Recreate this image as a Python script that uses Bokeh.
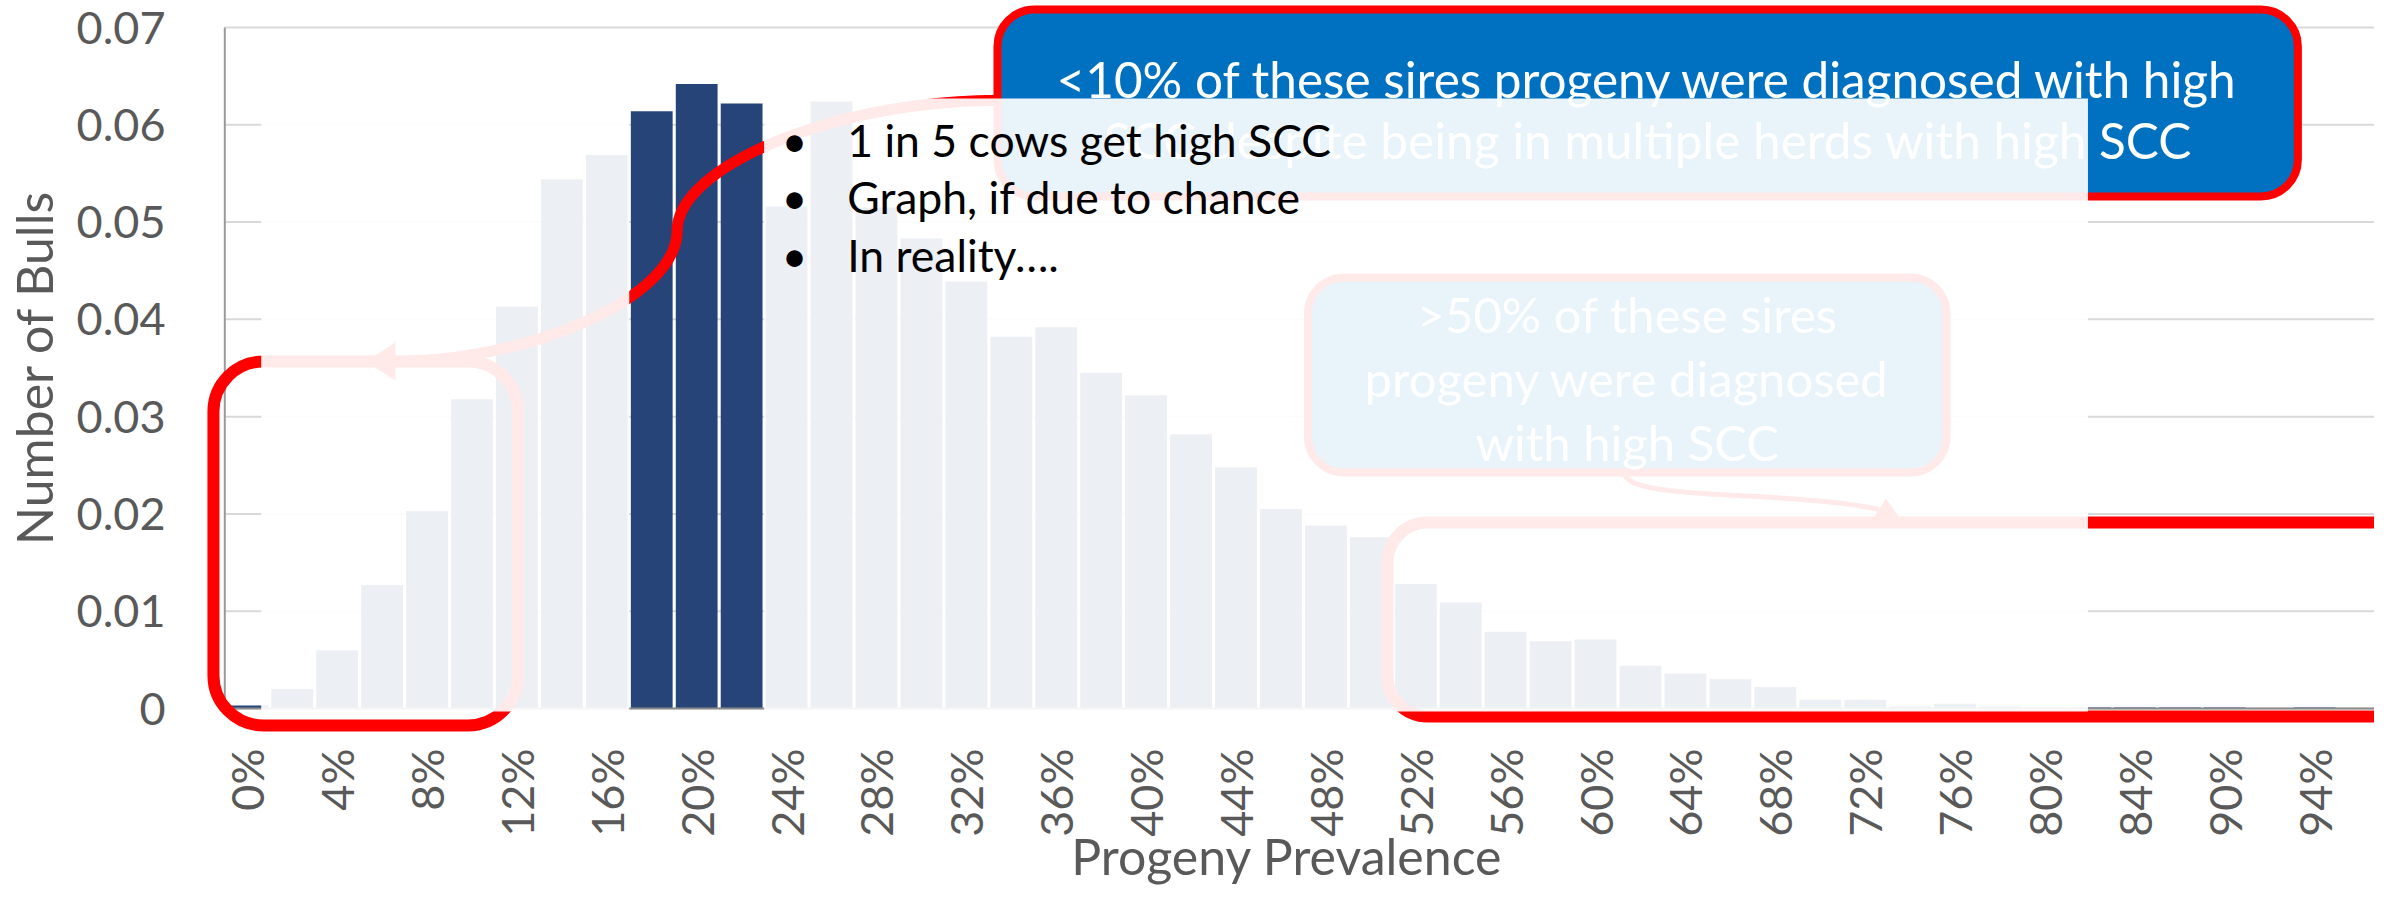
import math
from bokeh.plotting import figure
from bokeh.models import Range1d, FixedTicker, NumeralTickFormatter, BoxAnnotation, Label
from bokeh.embed import file_html
from bokeh.resources import INLINE

# ---------------- data ----------------
categories = ["0%", "2%", "4%", "6%", "8%", "10%", "12%", "14%", "16%", "18%",
              "20%", "22%", "24%", "26%", "28%", "30%", "32%", "34%", "36%", "38%",
              "40%", "42%", "44%", "46%", "48%", "50%", "52%", "54%", "56%", "58%",
              "60%", "62%", "64%", "66%", "68%", "70%", "72%", "74%", "76%", "78%",
              "80%", "82%", "84%", "86%", "90%", "92%", "94%", "96%"]
bull_share = [0.0003, 0.0020, 0.0060, 0.0127, 0.0203, 0.0318, 0.0413, 0.0544, 0.0569, 0.0614,
              0.0642, 0.0622, 0.0516, 0.0624, 0.0515, 0.0483, 0.0439, 0.0382, 0.0392, 0.0345,
              0.0322, 0.0282, 0.0248, 0.0205, 0.0188, 0.0176, 0.0128, 0.0109, 0.0079, 0.0069,
              0.0071, 0.0044, 0.0036, 0.0030, 0.0022, 0.0009, 0.0009, 0.0002, 0.0005, 0.0002,
              0.0001, 0.0001, 0.0001, 0.0001, 0.0001, 0.0, 0.0001, 0.0]
y_ticks = [0, 0.01, 0.02, 0.03, 0.04, 0.05, 0.06, 0.07]
x_tick_labels = ["0%", "4%", "8%", "12%", "16%", "20%", "24%", "28%", "32%", "36%", "40%",
                 "44%", "48%", "52%", "56%", "60%", "64%", "68%", "72%", "76%", "80%",
                 "84%", "90%", "94%"]
x_title = "Progeny Prevalence"
y_title = "Number of Bulls"
box_lines = ["<10% of these sires progeny were diagnosed with high",
             "SCC despite being in multiple herds with high SCC"]
callout_lines = [">50% of these sires", "progeny were diagnosed", "with high SCC"]
bullet_lines = ["1 in 5 cows get high SCC", "Graph, if due to chance", "In reality\u2026."]

# ---------------- style ----------------
FONT = "Lato"
GREY = "#595959"
NAVY = "#264478"
RED = "#FF0000"
BLUE = "#0070C0"
FADE = 0.912

# picture-pixel calibration of the plot (used for annotation placement)
X0, BW = 244.0, 45.17          # centre of first column, column pitch
Y0, PY = 709.0, 681.0 / 0.07   # baseline, pixels per unit
TOP = 1.0                      # picture row of the canvas top


def dx(px):
    return (px - X0) / BW


def dy(py):
    return (Y0 - py) / PY


def cubic(p0, p1, p2, p3, n=50):
    pts = []
    for k in range(n + 1):
        t = k / n
        a, b, c, d = (1 - t) ** 3, 3 * (1 - t) ** 2 * t, 3 * (1 - t) * t ** 2, t ** 3
        pts.append((a * p0[0] + b * p1[0] + c * p2[0] + d * p3[0],
                    a * p0[1] + b * p1[1] + c * p2[1] + d * p3[1]))
    return pts


def s_connector(start, end, xm):
    """Curved connector with horizontal ends and a vertical middle."""
    (x0, y0), (x1, y1) = start, end
    ym = (y0 + y1) / 2
    pts = cubic((x0, y0), ((x0 + xm) / 2, y0), (xm, (y0 + ym) / 2), (xm, ym))
    pts += cubic((xm, ym), (xm, (ym + y1) / 2), ((xm + x1) / 2, y1), (x1, y1))[1:]
    return [dx(x) for x, _ in pts], [dy(y) for _, y in pts]


idx = list(range(len(categories)))

p = figure(width=2374, height=891, output_backend="svg", toolbar_location=None,
           x_range=Range1d(dx(196), dx(2382)), y_range=Range1d(dy(735), dy(TOP)),
           min_border_left=188, min_border_right=0, min_border_top=0, min_border_bottom=157)
p.outline_line_color = None
p.background_fill_color = "white"
p.border_fill_color = "white"
p.grid.visible = False

# gridlines
p.segment(x0=[-0.5] * len(y_ticks), x1=[len(categories) + 2] * len(y_ticks),
          y0=y_ticks, y1=y_ticks, line_color="#d9d9d9", line_width=2)

# bars
p.vbar(x=idx, top=bull_share, width=0.93, fill_color=NAVY, line_color=None)

# axis lines
p.segment(x0=[-0.5], x1=[len(categories) + 2], y0=[0], y1=[0], line_color="#8c8c8c", line_width=2)
p.segment(x0=[-0.5], x1=[-0.5], y0=[0], y1=[y_ticks[-1]], line_color="#9a9a9a", line_width=2)

# connectors
cx, cy = s_connector((997, 101), (388, 362), 676)
p.line(cx, cy, line_color=RED, line_width=11)
p.patch([dx(393), dx(363), dx(393)], [dy(343), dy(362), dy(381)], fill_color=RED, line_color=None)

tail = cubic((1628, 474), (1634, 502), (1790, 490), (1884, 510))
p.line([dx(x) for x, _ in tail], [dy(y) for _, y in tail], line_color=RED, line_width=5)
p.patch([dx(1891), dx(1879), dx(1904)], [dy(499), dy(518), dy(518)], fill_color=RED, line_color=None)

# red highlight boxes
p.add_layout(BoxAnnotation(left=dx(210), right=dx(516), top=dy(362), bottom=dy(726),
                           fill_alpha=0, line_color=RED, line_alpha=1, line_width=12,
                           border_radius=50))
p.add_layout(BoxAnnotation(left=dx(1390), right=dx(2470), top=dy(523), bottom=dy(717),
                           fill_alpha=0, line_color=RED, line_alpha=1, line_width=12,
                           border_radius=40))

# blue text boxes
p.add_layout(BoxAnnotation(left=dx(998), right=dx(2305), top=dy(10), bottom=dy(197),
                           fill_color=BLUE, fill_alpha=1, line_color=RED, line_alpha=1,
                           line_width=8, border_radius=37))
p.add_layout(BoxAnnotation(left=dx(1310), right=dx(1952), top=dy(278), bottom=dy(473),
                           fill_color=BLUE, fill_alpha=1, line_color=RED, line_alpha=1,
                           line_width=8, border_radius=36))

for line, base in zip(box_lines, [79, 140]):
    p.add_layout(Label(x=dx(1652), y=dy(base), text=line, text_font=FONT,
                       text_font_size="49.5px", text_color="white",
                       text_align="center", text_baseline="alphabetic"))
for line, base in zip(callout_lines, [314, 378, 442]):
    p.add_layout(Label(x=dx(1631), y=dy(base), text=line, text_font=FONT,
                       text_font_size="49px", text_color="white",
                       text_align="center", text_baseline="alphabetic"))

# translucent white veil (leaves the 18-22% columns uncovered)
p.add_layout(BoxAnnotation(left=dx(258), right=8.5, top=dy(99), bottom=dy(712),
                           fill_color="white", fill_alpha=FADE, line_alpha=0))
p.add_layout(BoxAnnotation(left=11.5, right=dx(2094), top=dy(99), bottom=dy(712),
                           fill_color="white", fill_alpha=FADE, line_alpha=0))

# bullets on top
for line, base in zip(bullet_lines, [140, 197, 255]):
    p.add_layout(Label(x=dx(794), y=dy(base), text="\u2022", text_font=FONT,
                       text_font_size="44px", text_color="black", text_align="center",
                       text_baseline="alphabetic", level="overlay"))
    p.add_layout(Label(x=dx(847), y=dy(base), text=line, text_font=FONT,
                       text_font_size="44.5px", text_color="black", text_align="left",
                       text_baseline="alphabetic", level="overlay"))

# axes
p.yaxis.ticker = FixedTicker(ticks=y_ticks)
p.yaxis.formatter = NumeralTickFormatter(format="0.[00]")
p.yaxis.axis_label = y_title
p.yaxis.major_label_standoff = 28
p.yaxis.axis_label_standoff = 10

x_ticks = idx[::2]
p.xaxis.ticker = FixedTicker(ticks=x_ticks)
p.xaxis.major_label_overrides = {i: lab for i, lab in zip(x_ticks, x_tick_labels)}
p.xaxis.major_label_orientation = math.pi / 2
p.xaxis.axis_label = x_title
p.xaxis.major_label_standoff = 8
p.xaxis.axis_label_standoff = -14

for ax in (p.xaxis, p.yaxis):
    ax.axis_line_color = None
    ax.major_tick_line_color = None
    ax.minor_tick_line_color = None
    ax.major_label_text_font = FONT
    ax.major_label_text_font_size = "45px"
    ax.major_label_text_color = GREY
    ax.axis_label_text_font = FONT
    ax.axis_label_text_font_size = "50px"
    ax.axis_label_text_font_style = "normal"
    ax.axis_label_text_color = GREY

open("out.html", "w").write(file_html(p, INLINE, "Progeny Prevalence"))
